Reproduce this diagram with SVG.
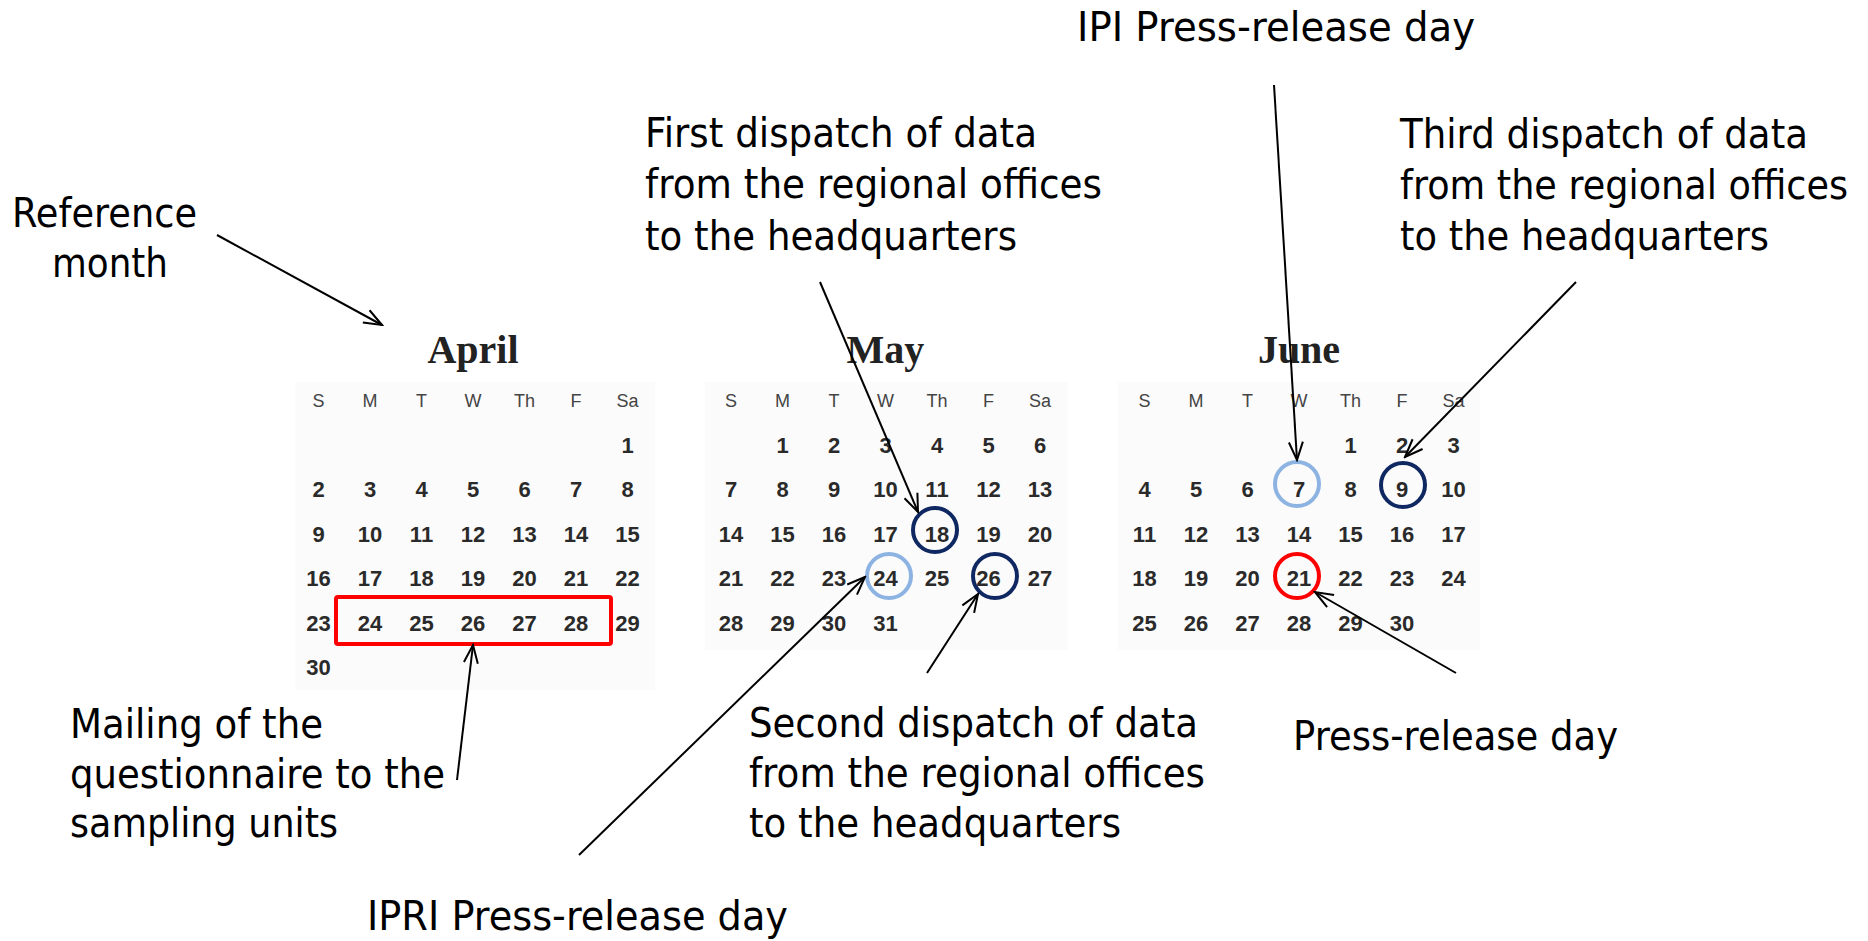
<svg xmlns="http://www.w3.org/2000/svg" width="1868" height="941" viewBox="0 0 1868 941">
<style>
.lbl{font-family:"DejaVu Sans","Liberation Sans",sans-serif;font-size:40px;fill:#000}
.ttl{font-family:"Liberation Serif",serif;font-size:40px;font-weight:bold;fill:#222;text-anchor:middle}
.hd{font-family:"Liberation Sans",Arial,sans-serif;font-size:18px;fill:#444;text-anchor:middle}
.d{font-family:"Liberation Sans",Arial,sans-serif;font-size:22px;font-weight:bold;fill:#2a2a2a;text-anchor:middle}
.bg{fill:#fbfbfb}
.arr{stroke:#000;stroke-width:2;fill:none;marker-end:url(#ah)}
.navy{fill:none;stroke:#0f2862;stroke-width:4}
.lblue{fill:none;stroke:#8db3e2;stroke-width:4}
.red{fill:none;stroke:#ff0000;stroke-width:4}
</style>
<defs>
<marker id="ah" markerUnits="userSpaceOnUse" viewBox="0 0 22 22" refX="20" refY="11" markerWidth="22" markerHeight="22" orient="auto">
<path d="M2,4 L20,11 L2,18" fill="none" stroke="#000" stroke-width="2"/>
</marker>
</defs>
<rect width="1868" height="941" fill="#fff"/>

<g id="cal-april">
<rect class="bg" x="295" y="382" width="360" height="308"/>
<text class="ttl" x="473" y="363">April</text>
<g class="hd"><text x="318.5" y="407">S</text><text x="370" y="407">M</text><text x="421.5" y="407">T</text><text x="473" y="407">W</text><text x="524.5" y="407">Th</text><text x="576" y="407">F</text><text x="627.5" y="407">Sa</text></g>
<g class="d">
<text x="627.5" y="453">1</text>
<text x="318.5" y="497">2</text><text x="370" y="497">3</text><text x="421.5" y="497">4</text><text x="473" y="497">5</text><text x="524.5" y="497">6</text><text x="576" y="497">7</text><text x="627.5" y="497">8</text>
<text x="318.5" y="542">9</text><text x="370" y="542">10</text><text x="421.5" y="542">11</text><text x="473" y="542">12</text><text x="524.5" y="542">13</text><text x="576" y="542">14</text><text x="627.5" y="542">15</text>
<text x="318.5" y="586">16</text><text x="370" y="586">17</text><text x="421.5" y="586">18</text><text x="473" y="586">19</text><text x="524.5" y="586">20</text><text x="576" y="586">21</text><text x="627.5" y="586">22</text>
<text x="318.5" y="631">23</text><text x="370" y="631">24</text><text x="421.5" y="631">25</text><text x="473" y="631">26</text><text x="524.5" y="631">27</text><text x="576" y="631">28</text><text x="627.5" y="631">29</text>
<text x="318.5" y="675">30</text>
</g>
<rect class="red" x="336" y="597" width="275" height="47" rx="2"/>
</g>

<g id="cal-may">
<rect class="bg" x="705" y="382" width="362" height="268"/>
<text class="ttl" x="885.5" y="363">May</text>
<g class="hd"><text x="731" y="407">S</text><text x="782.5" y="407">M</text><text x="834" y="407">T</text><text x="885.5" y="407">W</text><text x="937" y="407">Th</text><text x="988.5" y="407">F</text><text x="1040" y="407">Sa</text></g>
<g class="d">
<text x="782.5" y="453">1</text><text x="834" y="453">2</text><text x="885.5" y="453">3</text><text x="937" y="453">4</text><text x="988.5" y="453">5</text><text x="1040" y="453">6</text>
<text x="731" y="497">7</text><text x="782.5" y="497">8</text><text x="834" y="497">9</text><text x="885.5" y="497">10</text><text x="937" y="497">11</text><text x="988.5" y="497">12</text><text x="1040" y="497">13</text>
<text x="731" y="542">14</text><text x="782.5" y="542">15</text><text x="834" y="542">16</text><text x="885.5" y="542">17</text><text x="937" y="542">18</text><text x="988.5" y="542">19</text><text x="1040" y="542">20</text>
<text x="731" y="586">21</text><text x="782.5" y="586">22</text><text x="834" y="586">23</text><text x="885.5" y="586">24</text><text x="937" y="586">25</text><text x="988.5" y="586">26</text><text x="1040" y="586">27</text>
<text x="731" y="631">28</text><text x="782.5" y="631">29</text><text x="834" y="631">30</text><text x="885.5" y="631">31</text>
</g>
<circle class="navy" cx="935" cy="530" r="22"/>
<circle class="lblue" cx="889" cy="576" r="22"/>
<circle class="navy" cx="995" cy="576" r="22"/>
</g>

<g id="cal-june">
<rect class="bg" x="1118" y="382" width="362" height="268"/>
<text class="ttl" x="1299" y="363">June</text>
<g class="hd"><text x="1144.5" y="407">S</text><text x="1196" y="407">M</text><text x="1247.5" y="407">T</text><text x="1299" y="407">W</text><text x="1350.5" y="407">Th</text><text x="1402" y="407">F</text><text x="1453.5" y="407">Sa</text></g>
<g class="d">
<text x="1350.5" y="453">1</text><text x="1402" y="453">2</text><text x="1453.5" y="453">3</text>
<text x="1144.5" y="497">4</text><text x="1196" y="497">5</text><text x="1247.5" y="497">6</text><text x="1299" y="497">7</text><text x="1350.5" y="497">8</text><text x="1402" y="497">9</text><text x="1453.5" y="497">10</text>
<text x="1144.5" y="542">11</text><text x="1196" y="542">12</text><text x="1247.5" y="542">13</text><text x="1299" y="542">14</text><text x="1350.5" y="542">15</text><text x="1402" y="542">16</text><text x="1453.5" y="542">17</text>
<text x="1144.5" y="586">18</text><text x="1196" y="586">19</text><text x="1247.5" y="586">20</text><text x="1299" y="586">21</text><text x="1350.5" y="586">22</text><text x="1402" y="586">23</text><text x="1453.5" y="586">24</text>
<text x="1144.5" y="631">25</text><text x="1196" y="631">26</text><text x="1247.5" y="631">27</text><text x="1299" y="631">28</text><text x="1350.5" y="631">29</text><text x="1402" y="631">30</text>
</g>
<circle class="lblue" cx="1297" cy="484" r="22"/>
<circle class="navy" cx="1403" cy="485" r="22"/>
<circle class="red" cx="1297" cy="576" r="22"/>
</g>

<g id="label-reference-month" class="lbl">
<text x="12" y="227" textLength="185" lengthAdjust="spacingAndGlyphs">Reference</text>
<text x="52" y="277" textLength="116" lengthAdjust="spacingAndGlyphs">month</text>
</g>
<g id="label-ipi" class="lbl">
<text x="1077" y="41" textLength="398" lengthAdjust="spacingAndGlyphs">IPI Press-release day</text>
</g>
<g id="label-first" class="lbl">
<text x="645" y="147" textLength="392" lengthAdjust="spacingAndGlyphs">First dispatch of data</text>
<text x="645" y="198" textLength="457" lengthAdjust="spacingAndGlyphs">from the regional offices</text>
<text x="645" y="250" textLength="372" lengthAdjust="spacingAndGlyphs">to the headquarters</text>
</g>
<g id="label-third" class="lbl">
<text x="1400" y="148" textLength="408" lengthAdjust="spacingAndGlyphs">Third dispatch of data</text>
<text x="1400" y="199" textLength="448" lengthAdjust="spacingAndGlyphs">from the regional offices</text>
<text x="1400" y="250" textLength="369" lengthAdjust="spacingAndGlyphs">to the headquarters</text>
</g>
<g id="label-mailing" class="lbl">
<text x="70" y="738" textLength="253" lengthAdjust="spacingAndGlyphs">Mailing of the</text>
<text x="70" y="788" textLength="375" lengthAdjust="spacingAndGlyphs">questionnaire to the</text>
<text x="70" y="837" textLength="268" lengthAdjust="spacingAndGlyphs">sampling units</text>
</g>
<g id="label-second" class="lbl">
<text x="749" y="737" textLength="449" lengthAdjust="spacingAndGlyphs">Second dispatch of data</text>
<text x="749" y="787" textLength="456" lengthAdjust="spacingAndGlyphs">from the regional offices</text>
<text x="749" y="837" textLength="372" lengthAdjust="spacingAndGlyphs">to the headquarters</text>
</g>
<g id="label-press" class="lbl">
<text x="1293" y="750" textLength="325" lengthAdjust="spacingAndGlyphs">Press-release day</text>
</g>
<g id="label-ipri" class="lbl">
<text x="367" y="930" textLength="421" lengthAdjust="spacingAndGlyphs">IPRI Press-release day</text>
</g>

<g id="connectors">
<line class="arr" x1="217" y1="235" x2="382" y2="325"/>
<line class="arr" x1="820" y1="282" x2="918" y2="512"/>
<line class="arr" x1="1274" y1="85" x2="1297" y2="460"/>
<line class="arr" x1="1576" y1="282" x2="1405" y2="457"/>
<line class="arr" x1="457" y1="780" x2="473" y2="645"/>
<line class="arr" x1="579" y1="855" x2="865" y2="577"/>
<line class="arr" x1="927" y1="673" x2="978" y2="594"/>
<line class="arr" x1="1456" y1="673" x2="1315" y2="592"/>
</g>
</svg>
